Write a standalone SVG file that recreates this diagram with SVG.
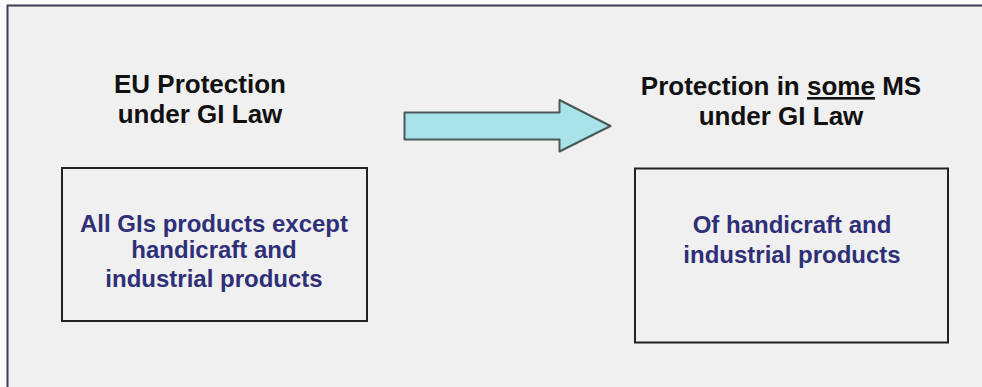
<svg xmlns="http://www.w3.org/2000/svg" width="982" height="387" viewBox="0 0 982 387">
<style>
.hdr{font-family:"Liberation Sans",Arial,sans-serif;font-weight:bold;font-size:26px;fill:#111;text-anchor:middle}
.body{font-family:"Liberation Sans",Arial,sans-serif;font-weight:bold;font-size:24px;fill:#2f2f78;text-anchor:middle}
.box{fill:none;stroke:#222;stroke-width:2}
</style>
<rect x="0" y="0" width="982" height="387" fill="#fbfbfd"/>
<rect x="7.5" y="5.5" width="990" height="400" fill="#f0f0f0" stroke="#3c3c50" stroke-width="2"/>
<g id="eu-header">
<text class="hdr" x="200" y="92.5">EU Protection</text>
<text class="hdr" x="200" y="122.5">under GI Law</text>
</g>
<g id="ms-header">
<text class="hdr" x="781" y="95">Protection in <tspan text-decoration="underline">some</tspan> MS</text>
<text class="hdr" x="781" y="125">under GI Law</text>
</g>
<g id="eu-box">
<rect class="box" x="62" y="168" width="305" height="153"/>
<text class="body" x="214" y="231.5">All GIs products except</text>
<text class="body" x="214" y="258">handicraft and</text>
<text class="body" x="214" y="286.5">industrial products</text>
</g>
<g id="ms-box">
<rect class="box" x="635" y="168.5" width="313" height="174"/>
<text class="body" x="792" y="233">Of handicraft and</text>
<text class="body" x="792" y="263">industrial products</text>
</g>
<g id="connectors">
<path d="M404.5,112.5 L559.5,112.5 L559.5,100 L610.5,126 L559.5,151.5 L559.5,139.5 L404.5,139.5 Z" fill="#a8e3ea" stroke="#4a5858" stroke-width="2" stroke-linejoin="round"/>
</g>
</svg>
